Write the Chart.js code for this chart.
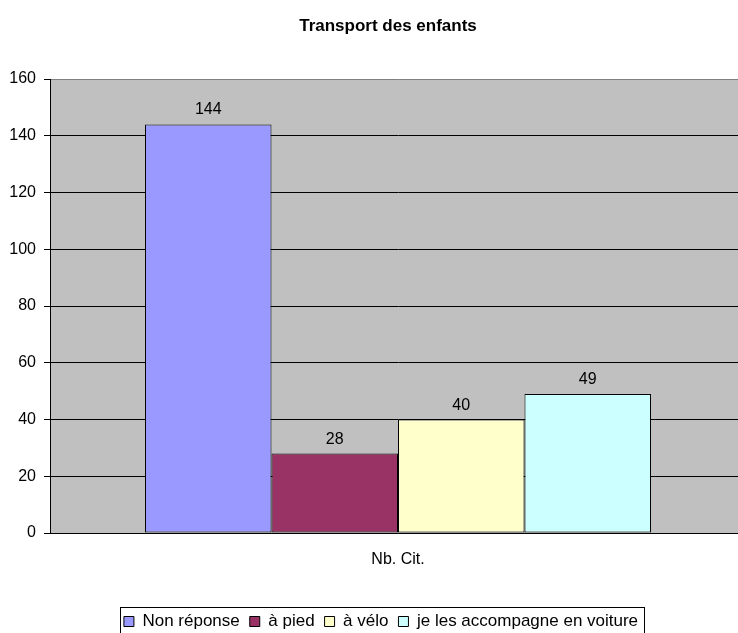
<!DOCTYPE html>
<html lang="fr">
<head>
    <meta charset="UTF-8">
    <title>Transport des enfants</title>
    <script src="https://cdn.jsdelivr.net/npm/chart.js"></script>
    <style>
        body, html {
            margin: 0;
            padding: 0;
            overflow: hidden;
            background: #fff;
        }
        .chart-container {
            width: 746px;
            height: 640px;
        }
    </style>
</head>
<body>
    <div class="chart-container">
        <canvas id="transportChart" width="746" height="640"></canvas>
    </div>

    <script>
        // Data
        const categories = ['Nb. Cit.'];
        const seriesNames = ['Non réponse', 'à pied', 'à vélo', 'je les accompagne en voiture'];
        const seriesValues = [144, 28, 40, 49];
        const seriesColors = ['#9999FF', '#993366', '#FFFFCC', '#CCFFFF'];
        const yTicks = [0, 20, 40, 60, 80, 100, 120, 140, 160];

        const FONT = '"Liberation Sans", Arial, sans-serif';

        const datasets = seriesNames.map((name, i) => ({
            label: name,
            data: [seriesValues[i]],
            backgroundColor: seriesColors[i],
            borderColor: '#000',
            borderWidth: 1,
            borderSkipped: false
        }));

        // grey plot area, framed legend, value labels
        const excelLook = {
            id: 'excelLook',
            afterLayout(chart) {
                chart.titleBlock.left += 15;
                chart.titleBlock.right += 15;
                chart.legend.left += 8;
                chart.legend.right += 8;
            },
            beforeDraw(chart) {
                const a = chart.chartArea;
                const ctx = chart.ctx;
                ctx.save();
                ctx.fillStyle = '#C0C0C0';
                ctx.fillRect(a.left, a.top, a.right - a.left, a.bottom - a.top);
                ctx.restore();
            },
            afterDatasetsDraw(chart) {
                const ctx = chart.ctx;
                ctx.save();
                ctx.font = '16px ' + FONT;
                ctx.fillStyle = '#000';
                ctx.textAlign = 'center';
                ctx.textBaseline = 'alphabetic';
                chart.data.datasets.forEach((ds, i) => {
                    chart.getDatasetMeta(i).data.forEach((bar, j) => {
                        ctx.fillText(ds.data[j], bar.x, bar.y - 10);
                    });
                });
                ctx.restore();
            },
            afterDraw(chart) {
                const boxes = chart.legend.legendHitBoxes;
                if (!boxes || !boxes.length) return;
                const left = Math.min(...boxes.map(b => b.left)) - 4;
                const right = Math.max(...boxes.map(b => b.left + b.width)) + 6;
                const top = boxes[0].top - 6;
                const ctx = chart.ctx;
                ctx.save();
                ctx.strokeStyle = '#000';
                ctx.lineWidth = 1;
                ctx.strokeRect(Math.round(left) + 0.5, Math.round(top) + 0.5, Math.round(right - left), 40);
                ctx.restore();
            }
        };

        const ctx = document.getElementById('transportChart').getContext('2d');
        const transportChart = new Chart(ctx, {
            type: 'bar',
            data: {
                labels: categories,
                datasets: datasets
            },
            options: {
                responsive: false,
                animation: false,
                devicePixelRatio: 1,
                layout: { padding: 0 },
                datasets: {
                    bar: {
                        categoryPercentage: 0.727,
                        barPercentage: 1
                    }
                },
                plugins: {
                    title: {
                        display: true,
                        text: 'Transport des enfants',
                        color: '#000',
                        font: { family: FONT, size: 17, weight: 'bold' },
                        padding: { top: 16, bottom: 42.6 }
                    },
                    legend: {
                        position: 'bottom',
                        labels: {
                            color: '#000',
                            font: { family: FONT, size: 17 },
                            boxWidth: 10,
                            boxHeight: 10,
                            padding: 10
                        }
                    },
                    tooltip: { enabled: false }
                },
                scales: {
                    x: {
                        grid: { display: false },
                        border: { display: true, color: '#000', width: 1 },
                        ticks: {
                            color: '#000',
                            font: { family: FONT, size: 16 },
                            padding: 9
                        },
                        afterFit(scale) { scale.height = 70; }
                    },
                    y: {
                        min: 0,
                        max: 160,
                        afterBuildTicks(scale) {
                            scale.ticks = yTicks.map(v => ({ value: v }));
                        },
                        grid: {
                            color: c => (c.tick && c.tick.value === 160 ? '#808080' : '#000'),
                            tickColor: '#000',
                            tickLength: 6,
                            lineWidth: 1
                        },
                        border: { display: true, color: '#000', width: 1 },
                        ticks: {
                            color: '#000',
                            font: { family: FONT, size: 16 },
                            padding: 8
                        },
                        afterFit(scale) { scale.width = 50; }
                    }
                }
            },
            plugins: [excelLook]
        });
    </script>
</body>
</html>
